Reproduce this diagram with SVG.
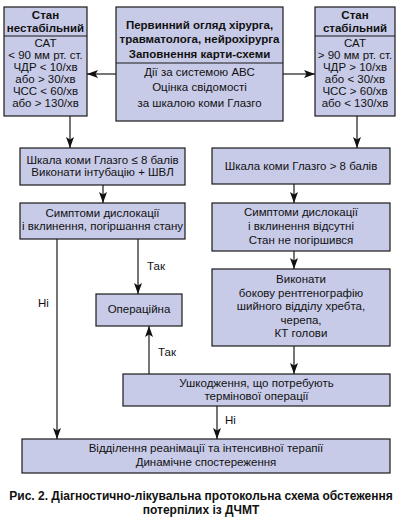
<svg xmlns="http://www.w3.org/2000/svg" width="401" height="526" viewBox="0 0 401 526">
<style>
.box{fill:#c8cbe8;stroke:#1a1a1a;stroke-width:1.2}
.div{stroke:#1a1a1a;stroke-width:1.2}
text{font-family:"Liberation Sans",Arial,sans-serif;font-size:11.5px;fill:#111;text-anchor:middle}
.b{font-weight:bold}
.l{text-anchor:start}
.cap{font-weight:bold;font-size:12px}
.c{stroke:#1a1a1a;stroke-width:1.2;fill:none;marker-end:url(#ah)}
</style>
<defs>
<marker id="ah" markerUnits="userSpaceOnUse" markerWidth="11" markerHeight="8" refX="11" refY="4" orient="auto">
<path d="M0,0 L11,4 L0,8 L2.5,4 z" fill="#111"/>
</marker>
</defs>
<rect width="401" height="526" fill="#fff"/>

<g id="unstable">
<rect class="box" x="4" y="7" width="83" height="109"/>
<line class="div" x1="4" y1="36" x2="87" y2="36"/>
<text class="b" x="45.5" y="19">Стан</text>
<text class="b" x="45.5" y="32">нестабільний</text>
<text x="45.5" y="47">САТ</text>
<text x="45.5" y="59">&lt; 90 мм рт. ст.</text>
<text x="45.5" y="71">ЧДР &lt; 10/хв</text>
<text x="45.5" y="83">або &gt; 30/хв</text>
<text x="45.5" y="95">ЧСС &lt; 60/хв</text>
<text x="45.5" y="107">або &gt; 130/хв</text>
</g>

<g id="primary">
<rect class="box" x="116" y="7" width="167" height="114"/>
<line class="div" x1="116" y1="63" x2="283" y2="63"/>
<text class="b" x="199.5" y="29">Первинний огляд хірурга,</text>
<text class="b" x="199.5" y="43">травматолога, нейрохірурга</text>
<text class="b" x="199.5" y="58">Заповнення карти-схеми</text>
<text x="199.5" y="76">Дії за системою АВС</text>
<text x="199.5" y="91">Оцінка свідомості</text>
<text x="199.5" y="107">за шкалою коми Глазго</text>
</g>

<g id="stable">
<rect class="box" x="315" y="7" width="80" height="109"/>
<line class="div" x1="315" y1="36" x2="395" y2="36"/>
<text class="b" x="355" y="19">Стан</text>
<text class="b" x="355" y="32">стабільний</text>
<text x="355" y="47">САТ</text>
<text x="355" y="59">&gt; 90 мм рт. ст.</text>
<text x="355" y="71">ЧДР &gt; 10/хв</text>
<text x="355" y="83">або &lt; 30/хв</text>
<text x="355" y="95">ЧСС &gt; 60/хв</text>
<text x="355" y="107">або &lt; 130/хв</text>
</g>

<g id="gcs-low">
<rect class="box" x="20" y="148" width="165" height="37"/>
<text x="102.5" y="164">Шкала коми Глазго ≤ 8 балів</text>
<text x="102.5" y="176">Виконати інтубацію + ШВЛ</text>
</g>

<g id="dislocation">
<rect class="box" x="20" y="203" width="165" height="36"/>
<text x="102.5" y="217">Симптоми дислокації</text>
<text x="102.5" y="230">і вклинення, погіршання стану</text>
</g>

<g id="operative">
<rect class="box" x="96" y="294" width="86" height="32"/>
<text x="139" y="313">Операційна</text>
</g>

<g id="gcs-high">
<rect class="box" x="212" y="148" width="178" height="36"/>
<text x="301" y="170">Шкала коми Глазго &gt; 8 балів</text>
</g>

<g id="no-dislocation">
<rect class="box" x="212" y="203" width="178" height="48"/>
<text x="301" y="216">Симптоми дислокації</text>
<text x="301" y="230">і вклинення відсутні</text>
<text x="301" y="244">Стан не погіршився</text>
</g>

<g id="imaging">
<rect class="box" x="212" y="269" width="178" height="77"/>
<text x="301" y="283">Виконати</text>
<text x="301" y="296.5">бокову рентгенографію</text>
<text x="301" y="310">шийного відділу хребта,</text>
<text x="301" y="323.5">черепа,</text>
<text x="301" y="337">КТ голови</text>
</g>

<g id="urgent">
<rect class="box" x="123" y="374" width="267" height="32"/>
<text x="256.5" y="387">Ушкодження, що потребують</text>
<text x="256.5" y="400">термінової операції</text>
</g>

<g id="icu">
<rect class="box" x="22" y="439" width="368" height="34"/>
<text x="206" y="452">Відділення реанімації та інтенсивної терапії</text>
<text x="206" y="466">Динамічне спостереження</text>
</g>

<g id="connectors">
<line class="c" x1="116" y1="74" x2="87" y2="74"/>
<line class="c" x1="283" y1="74" x2="315" y2="74"/>
<line class="c" x1="70" y1="116" x2="70" y2="148"/>
<line class="c" x1="357" y1="116" x2="357" y2="148"/>
<line class="c" x1="103" y1="185" x2="103" y2="203"/>
<line class="c" x1="294" y1="184" x2="294" y2="203"/>
<line class="c" x1="294" y1="251" x2="294" y2="269"/>
<line class="c" x1="294" y1="346" x2="294" y2="374"/>
<line class="c" x1="138" y1="239" x2="138" y2="294"/>
<line class="c" x1="57" y1="239" x2="57" y2="439"/>
<line class="c" x1="149" y1="374" x2="149" y2="326"/>
<line class="c" x1="217" y1="406" x2="217" y2="439"/>
<text class="l" x="147" y="270">Так</text>
<text class="l" x="38" y="307">Ні</text>
<text class="l" x="158" y="356">Так</text>
<text class="l" x="225" y="424">Ні</text>
</g>

<text class="cap" x="201" y="500">Рис. 2. Діагностично-лікувальна протокольна схема обстеження</text>
<text class="cap" x="201" y="514">потерпілих із ДЧМТ</text>
</svg>
